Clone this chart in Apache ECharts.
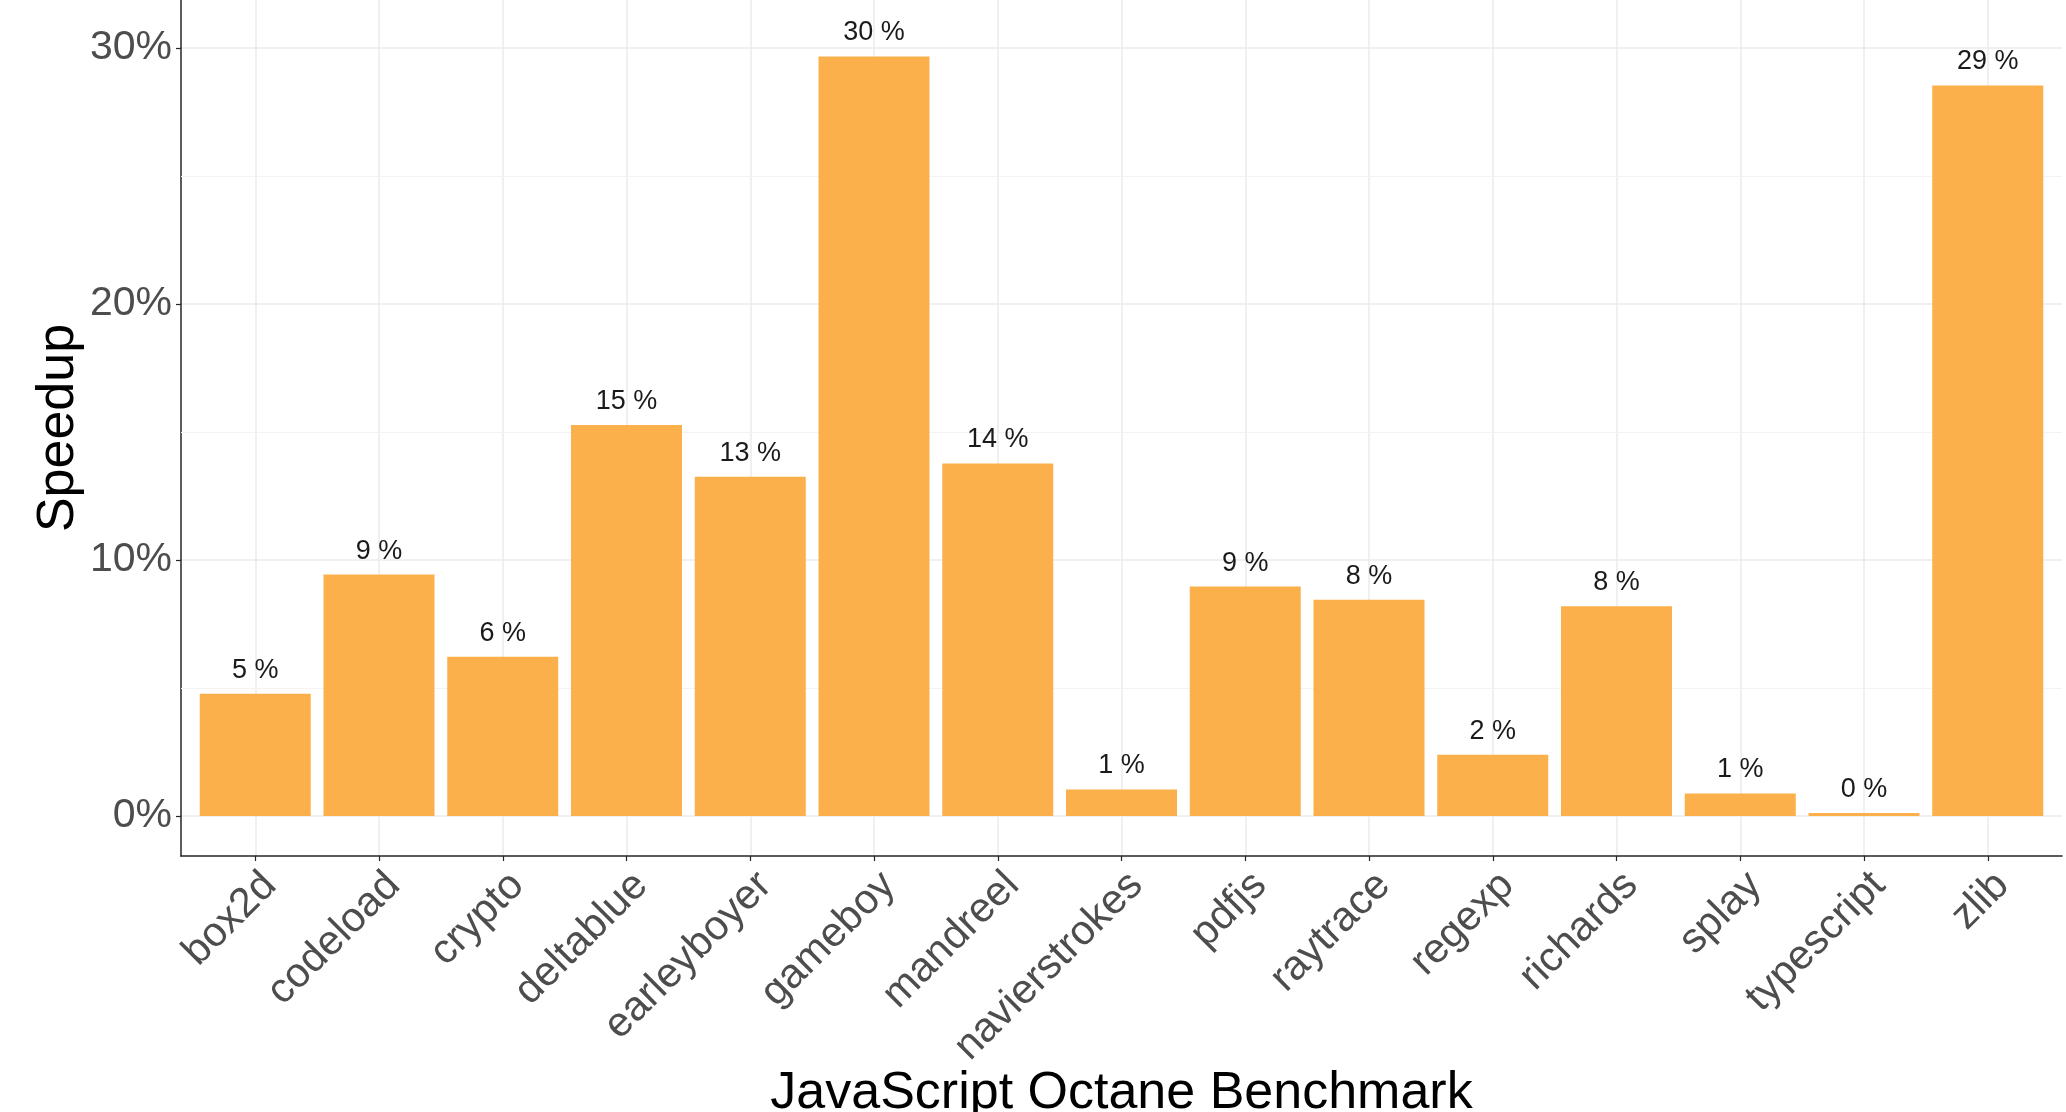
<!DOCTYPE html>
<html>
<head>
<meta charset="utf-8">
<title>JavaScript Octane Benchmark speedup</title>
<script src="https://cdn.jsdelivr.net/npm/echarts@6/dist/echarts.min.js"></script>
<style>
  html, body { margin: 0; padding: 0; background: #fff; }
  #chart { width: 2066px; height: 1112px; }
</style>
</head>
<body>
<div id="chart"></div>
<script>
const benchmarks = ['box2d', 'codeload', 'crypto', 'deltablue', 'earleyboyer', 'gameboy', 'mandreel',
  'navierstrokes', 'pdfjs', 'raytrace', 'regexp', 'richards', 'splay', 'typescript', 'zlib']
const speedup = [4.78, 9.43, 6.22, 15.27, 13.25, 29.67, 13.77, 1.04, 8.96, 8.45, 2.39, 8.19, 0.88, 0.12, 28.54]
const majorTicks = [0, 10, 20, 30]
const minorTicks = [5, 15, 25]

const FONT = '"Liberation Sans", Arial, Helvetica, sans-serif'
const BAR_COLOR = '#FCB04B'
const AXIS_COLOR = '#262626'
const GRID_COLOR = '#ebebeb'
// ggplot puts the rotated labels a bit right of the tick
const LABEL_SHIFT = 0.12

const positions = benchmarks.map((_, i) => i)

const chart = echarts.init(document.getElementById('chart'), null, { renderer: 'canvas' })

const option = {
  backgroundColor: '#ffffff',
  animation: false,
  grid: { left: 181, right: 4, top: 0, bottom: 256, containLabel: false, outerBoundsMode: 'none' },
  xAxis: {
    type: 'value',
    min: -0.6,
    max: benchmarks.length - 1 + 0.6,
    name: 'JavaScript Octane Benchmark',
    nameLocation: 'middle',
    nameGap: 212,
    nameMoveOverlap: false,
    nameTextStyle: { fontFamily: FONT, fontSize: 52, color: '#000' },
    axisLine: { show: true, onZero: false, lineStyle: { color: AXIS_COLOR, width: 1.6 } },
    axisTick: { show: true, length: 5, customValues: positions, lineStyle: { color: AXIS_COLOR, width: 1.2 } },
    axisLabel: {
      customValues: positions.map(p => p + LABEL_SHIFT),
      formatter: v => benchmarks[Math.round(v - LABEL_SHIFT)] || '',
      rotate: 45,
      margin: 23,
      fontFamily: FONT,
      fontSize: 41.5,
      color: '#4d4d4d'
    },
    splitLine: { show: true, lineStyle: { color: GRID_COLOR, width: 1.5 } }
  },
  yAxis: {
    type: 'value',
    min: -1.5625,
    max: 31.875,
    name: 'Speedup',
    nameLocation: 'middle',
    nameGap: 96,
    nameMoveOverlap: false,
    nameTextStyle: { fontFamily: FONT, fontSize: 52, color: '#000' },
    axisLine: { show: true, onZero: false, lineStyle: { color: AXIS_COLOR, width: 1.5 } },
    axisTick: { show: true, length: 5, customValues: majorTicks, lineStyle: { color: AXIS_COLOR, width: 1.2 } },
    axisLabel: {
      customValues: majorTicks,
      formatter: v => v + '%',
      margin: 9,
      fontFamily: FONT,
      fontSize: 41,
      color: '#4d4d4d'
    },
    splitLine: { show: true, lineStyle: { color: GRID_COLOR, width: 1.5 } }
  },
  series: [
    {
      // minor horizontal grid, kept behind the bars
      type: 'line',
      z: 1,
      data: [],
      markLine: {
        silent: true,
        z: 1,
        symbol: 'none',
        label: { show: false },
        lineStyle: { color: '#f3f3f3', width: 1, type: 'solid' },
        data: minorTicks.map(v => ({ yAxis: v }))
      }
    },
    {
      type: 'bar',
      z: 2,
      barWidth: 111,
      itemStyle: { color: BAR_COLOR },
      label: {
        show: true,
        position: 'top',
        distance: 10,
        fontFamily: FONT,
        fontSize: 27,
        color: '#1a1a1a',
        formatter: p => Math.round(p.value[1]) + ' %'
      },
      data: speedup.map((v, i) => [i, v])
    }
  ]
}

chart.setOption(option)
</script>
</body>
</html>
